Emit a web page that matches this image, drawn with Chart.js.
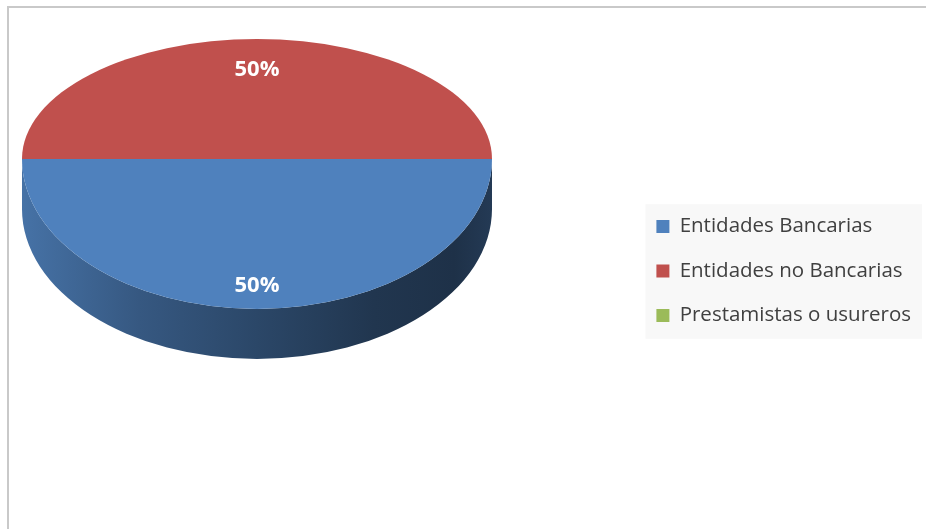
<!DOCTYPE html>
<html lang="es">
<head>
<meta charset="UTF-8">
<title>Fuentes de financiamiento</title>
<script src="https://cdn.jsdelivr.net/npm/chart.js"></script>
<style>
  body { margin: 0; background: #fff; }
  .wrap { position: relative; width: 926px; height: 529px; overflow: hidden; }
  .frame {
    position: absolute; left: 7px; top: 6px; right: -10px; bottom: -10px;
    border-top: 2px solid #c9c9c9; border-left: 2px solid #c9c9c9;
  }
  canvas { position: absolute; left: 0; top: 0; }
</style>
</head>
<body>
<div class="wrap">
  <div class="frame"></div>
  <canvas id="pie" width="926" height="529"></canvas>
</div>
<script>
const categories = ['Entidades Bancarias', 'Entidades no Bancarias', 'Prestamistas o usureros'];
const shares = [50, 50, 0];

const sliceColors = ['#4f81bd', '#c0504d', '#9bbb59'];

// ellipse used for the tilted top face
const CX = 257, CY = 159, RX = 235;
const RY_BACK = 120, RY_FRONT = 150, DEPTH = 50;

function shade(hex, f) {
  const n = parseInt(hex.slice(1), 16);
  const r = Math.round(((n >> 16) & 255) * f);
  const g = Math.round(((n >> 8) & 255) * f);
  const b = Math.round((n & 255) * f);
  return `rgb(${r},${g},${b})`;
}

const pie3d = {
  id: 'pie3d',
  beforeDatasetsDraw(chart) {
    const ctx = chart.ctx;
    const arcs = chart.getDatasetMeta(0).data;
    const cx = arcs[0].x, cy = arcs[0].y, r = arcs[0].outerRadius;
    const TAU = Math.PI * 2;

    // side wall, only the front half is visible
    arcs.forEach((arc, i) => {
      const span = arc.endAngle - arc.startAngle;
      if (span <= 0) return;
      const a0 = ((arc.startAngle % TAU) + TAU) % TAU;
      const a1 = a0 + span;
      [[0, Math.PI], [TAU, TAU + Math.PI]].forEach(([lo, hi]) => {
        const s = Math.max(a0, lo), e = Math.min(a1, hi);
        if (e <= s) return;
        const col = sliceColors[i];
        const grad = ctx.createLinearGradient(CX - RX, 0, CX + RX, 0);
        grad.addColorStop(0, shade(col, 0.88));
        grad.addColorStop(0.25, shade(col, 0.68));
        grad.addColorStop(0.5, shade(col, 0.55));
        grad.addColorStop(0.75, shade(col, 0.42));
        grad.addColorStop(0.92, shade(col, 0.38));
        grad.addColorStop(1, shade(col, 0.45));
        ctx.save();
        ctx.beginPath();
        ctx.ellipse(CX, CY, RX, RY_FRONT, 0, s, e);
        ctx.ellipse(CX, CY + DEPTH, RX, RY_FRONT, 0, e, s, true);
        ctx.closePath();
        ctx.fillStyle = grad;
        ctx.fill();
        ctx.restore();
      });
    });

    // top face: back half and front half squashed differently
    [[RY_BACK, 0, CY + 1], [RY_FRONT, CY, chart.height - CY]].forEach(([ry, top, h]) => {
      ctx.save();
      ctx.beginPath();
      ctx.rect(0, top, chart.width, h);
      ctx.clip();
      ctx.translate(CX, CY);
      ctx.scale(RX / r, ry / r);
      ctx.translate(-cx, -cy);
      arcs.forEach(arc => arc.draw(ctx));
      ctx.restore();
    });

    // percentage labels
    const total = shares.reduce((a, b) => a + b, 0);
    ctx.save();
    ctx.fillStyle = '#ffffff';
    ctx.font = 'bold 22px "Open Sans"';
    ctx.textAlign = 'center';
    ctx.textBaseline = 'middle';
    arcs.forEach((arc, i) => {
      if (!shares[i]) return;
      const mid = (arc.startAngle + arc.endAngle) / 2;
      const sin = Math.sin(mid);
      const ry = sin > 0 ? RY_FRONT : RY_BACK;
      const x = CX + RX * 0.8 * Math.cos(mid);
      const y = CY + ry * 0.8 * sin + 7;
      ctx.fillText(Math.round(shares[i] / total * 100) + '%', x, y);
    });
    ctx.restore();
    return false;
  }
};

const legendPanel = {
  id: 'legendPanel',
  beforeDraw(chart) {
    const boxes = chart.legend.legendHitBoxes;
    if (!boxes || !boxes.length) return;
    const last = boxes[boxes.length - 1];
    const left = boxes[0].left - 11;
    const right = Math.max(...boxes.map(b => b.left + b.width)) + 11;
    const top = boxes[0].top - 12;
    const bottom = last.top + last.height + 13;
    const ctx = chart.ctx;
    ctx.save();
    ctx.fillStyle = '#f8f8f8';
    ctx.fillRect(left, top, right - left, bottom - top);
    ctx.restore();
  }
};

new Chart(document.getElementById('pie'), {
  type: 'pie',
  data: {
    labels: categories,
    datasets: [{
      data: shares,
      backgroundColor: sliceColors,
      borderWidth: 0
    }]
  },
  options: {
    responsive: false,
    animation: false,
    rotation: 90,
    layout: { padding: { top: 13, right: 5 } },
    plugins: {
      legend: {
        position: 'right',
        labels: {
          boxWidth: 13,
          boxHeight: 13,
          padding: 24,
          color: '#404040',
          font: { family: '"Open Sans"', size: 20.5 }
        }
      },
      tooltip: { enabled: false }
    }
  },
  plugins: [pie3d, legendPanel]
});
</script>
</body>
</html>
